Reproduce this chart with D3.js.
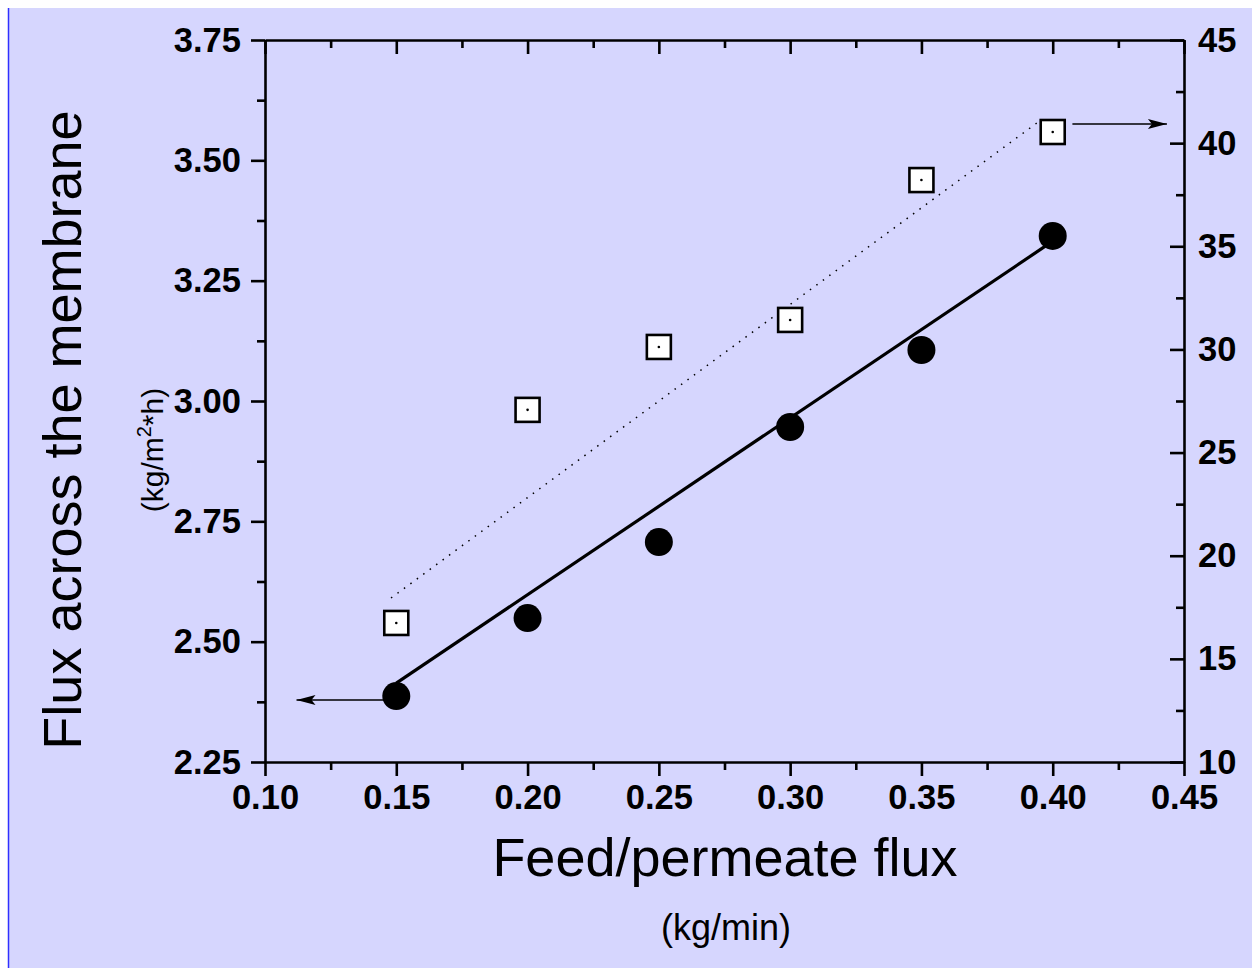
<!DOCTYPE html>
<html>
<head>
<meta charset="utf-8">
<script src="https://cdn.jsdelivr.net/npm/d3@7"></script>
<style>
  html, body { margin: 0; padding: 0; background: #ffffff; }
  svg { display: block; }
  text { font-family: Arial, "Liberation Sans", sans-serif; }
</style>
</head>
<body>
<svg id="chart" width="1252" height="968"></svg>
<script>
// ---- data ----
const feedFlux = [0.15, 0.20, 0.25, 0.30, 0.35, 0.40];
const membraneFlux = [2.387, 2.549, 2.707, 2.946, 3.106, 3.343];   // left axis, filled circles
const rightSeries = [16.74, 27.07, 30.12, 31.43, 38.21, 40.54];    // right axis, open squares
const solidFitX = [0.15, 0.40];
const solidFitY = [2.414, 3.332];
const dottedFitX = [0.148, 0.394];
const dottedFitY = [17.95, 40.98];
const xTicks = [0.10, 0.15, 0.20, 0.25, 0.30, 0.35, 0.40, 0.45];
const xMinorTicks = [0.125, 0.175, 0.225, 0.275, 0.325, 0.375, 0.425];
const yLeftTicks = [2.25, 2.50, 2.75, 3.00, 3.25, 3.50, 3.75];
const yLeftMinorTicks = [2.375, 2.625, 2.875, 3.125, 3.375, 3.625];
const yRightTicks = [10, 15, 20, 25, 30, 35, 40, 45];
const yRightMinorTicks = [12.5, 17.5, 22.5, 27.5, 32.5, 37.5, 42.5];

const svg = d3.select("#chart");

// background
svg.append("rect").attr("x", 8).attr("y", 8).attr("width", 1244).attr("height", 960)
  .attr("fill", "#D6D6FE");
svg.append("line").attr("x1", 8.5).attr("x2", 8.5).attr("y1", 8).attr("y2", 968)
  .attr("stroke", "#3030FF").attr("stroke-width", 1.5);

const L = 265, R = 1184, T = 40, B = 762;
const x = d3.scaleLinear().domain([0.10, 0.45]).range([L, R]);
const yL = d3.scaleLinear().domain([2.25, 3.75]).range([B, T]);
const yR = d3.scaleLinear().domain([10, 45]).range([B, T]);

function styleAxis(g) {
  g.selectAll("path.domain").attr("stroke", "#000").attr("stroke-width", 2.6);
  g.selectAll(".tick line").attr("stroke", "#000").attr("stroke-width", 2.6);
  g.selectAll("text").attr("fill", "#000").attr("font-size", 34.5).attr("font-weight", "bold")
    .attr("font-family", "Arial, 'Liberation Sans', sans-serif");
}

// bottom
const gB = svg.append("g").attr("transform", `translate(0,${B})`)
  .call(d3.axisBottom(x).tickValues(xTicks).tickFormat(d3.format(".2f"))
    .tickSizeInner(14).tickSizeOuter(0).tickPadding(9));
svg.append("g").attr("transform", `translate(0,${B})`)
  .call(d3.axisBottom(x).tickValues(xMinorTicks).tickFormat("").tickSizeInner(8).tickSizeOuter(0))
  .call(g => g.select(".domain").remove()).call(styleAxis);
styleAxis(gB);

// top
svg.append("g").attr("transform", `translate(0,${T})`)
  .call(d3.axisTop(x).tickValues(xTicks).tickFormat("").tickSizeInner(-14).tickSizeOuter(0))
  .call(styleAxis);
svg.append("g").attr("transform", `translate(0,${T})`)
  .call(d3.axisTop(x).tickValues(xMinorTicks).tickFormat("").tickSizeInner(-8).tickSizeOuter(0))
  .call(g => g.select(".domain").remove()).call(styleAxis);

// left
svg.append("g").attr("transform", `translate(${L},0)`)
  .call(d3.axisLeft(yL).tickValues(yLeftTicks).tickFormat(d3.format(".2f"))
    .tickSizeInner(14).tickSizeOuter(0).tickPadding(10))
  .call(styleAxis);
svg.append("g").attr("transform", `translate(${L},0)`)
  .call(d3.axisLeft(yL).tickValues(yLeftMinorTicks).tickFormat("").tickSizeInner(8).tickSizeOuter(0))
  .call(g => g.select(".domain").remove()).call(styleAxis);

// right
svg.append("g").attr("transform", `translate(${R},0)`)
  .call(d3.axisRight(yR).tickValues(yRightTicks).tickFormat(d3.format("d"))
    .tickSizeInner(-14).tickSizeOuter(0).tickPadding(14))
  .call(styleAxis);
svg.append("g").attr("transform", `translate(${R},0)`)
  .call(d3.axisRight(yR).tickValues(yRightMinorTicks).tickFormat("").tickSizeInner(-8).tickSizeOuter(0))
  .call(g => g.select(".domain").remove()).call(styleAxis);

// fit lines
svg.append("line")
  .attr("x1", x(dottedFitX[0])).attr("y1", yR(dottedFitY[0]))
  .attr("x2", x(dottedFitX[1])).attr("y2", yR(dottedFitY[1]))
  .attr("stroke", "#000").attr("stroke-width", 1.5).attr("stroke-dasharray", "1.5,6.5");
svg.append("line")
  .attr("x1", x(solidFitX[0])).attr("y1", yL(solidFitY[0]))
  .attr("x2", x(solidFitX[1])).attr("y2", yL(solidFitY[1]))
  .attr("stroke", "#000").attr("stroke-width", 3.2);

// squares
const sq = 24;
svg.append("g").selectAll("rect").data(feedFlux).join("rect")
  .attr("x", (d) => x(d) - sq / 2)
  .attr("y", (d, i) => yR(rightSeries[i]) - sq / 2)
  .attr("width", sq).attr("height", sq)
  .attr("fill", "#fff").attr("stroke", "#000").attr("stroke-width", 2.6);
svg.append("g").selectAll("circle").data(feedFlux).join("circle")
  .attr("cx", (d) => x(d)).attr("cy", (d, i) => yR(rightSeries[i])).attr("r", 1.3)
  .attr("fill", "#000");

// circles
svg.append("g").selectAll("circle").data(feedFlux).join("circle")
  .attr("cx", (d) => x(d)).attr("cy", (d, i) => yL(membraneFlux[i])).attr("r", 14)
  .attr("fill", "#000");

// arrows
function arrow(x1, y1, x2, y2) {
  svg.append("line").attr("x1", x1).attr("y1", y1).attr("x2", x2).attr("y2", y2)
    .attr("stroke", "#000").attr("stroke-width", 1.4);
  const dir = Math.sign(x2 - x1);
  svg.append("path")
    .attr("d", `M${x2},${y2} L${x2 - dir * 19},${y2 - 5} L${x2 - dir * 15},${y2} L${x2 - dir * 19},${y2 + 5} Z`)
    .attr("fill", "#000");
}
arrow(x(0.148), yL(membraneFlux[0]) + 4, x(0.112), yL(membraneFlux[0]) + 4);
arrow(x(0.4075), yR(rightSeries[5]) - 8, x(0.4435), yR(rightSeries[5]) - 8);

// titles
svg.append("text").attr("x", 725).attr("y", 876).attr("text-anchor", "middle")
  .attr("font-size", 54).attr("fill", "#000").text("Feed/permeate flux");
svg.append("text").attr("x", 726).attr("y", 940).attr("text-anchor", "middle")
  .attr("font-size", 36).attr("fill", "#000").text("(kg/min)");

svg.append("text").attr("transform", "translate(81,430) rotate(-90)").attr("text-anchor", "middle")
  .attr("font-size", 54).attr("fill", "#000").text("Flux across the membrane");

const sub = svg.append("text").attr("transform", "translate(163,450) rotate(-90)").attr("text-anchor", "middle")
  .attr("font-size", 30).attr("fill", "#000");
sub.append("tspan").text("(kg/m");
sub.append("tspan").attr("font-size", 20).attr("dy", -12).text("2");
sub.append("tspan").attr("dy", 12).text("*h)");
</script>
</body>
</html>
